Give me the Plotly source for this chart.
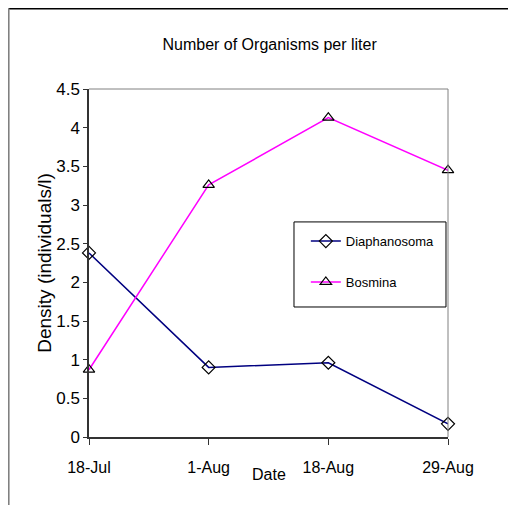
import plotly.graph_objects as go

dates = ["18-Jul", "1-Aug", "18-Aug", "29-Aug"]
diaphanosoma = [2.38, 0.90, 0.96, 0.17]
bosmina = [0.87, 3.26, 4.13, 3.45]
y_ticks = [0, 0.5, 1, 1.5, 2, 2.5, 3, 3.5, 4, 4.5]

font = "Liberation Sans, Arial, sans-serif"
xpos = list(range(len(dates)))

fig = go.Figure()
fig.add_trace(go.Scatter(
    x=xpos, y=diaphanosoma, name="Diaphanosoma", mode="lines+markers",
    line=dict(color="#000080", width=1.5),
    marker=dict(symbol="diamond-open", size=10, color="black", line=dict(width=1.2)),
    legendgroup="a", cliponaxis=False))
fig.add_trace(go.Scatter(
    x=xpos, y=bosmina, name="Bosmina", mode="lines+markers",
    line=dict(color="#FF00FF", width=1.5),
    marker=dict(symbol="triangle-up-open", size=10, color="black", line=dict(width=1.2)),
    legendgroup="b", cliponaxis=False))

# page body has an 8px margin: figure origin sits at (8, 8) in the window
fig.update_layout(
    width=508, height=497,
    margin=dict(l=81, r=68, t=81, b=68),
    paper_bgcolor="white", plot_bgcolor="white",
    font=dict(family=font, color="black"),
    title=dict(text="Number of Organisms per liter", x=0.515, xanchor="center",
               y=0.926, yanchor="middle", font=dict(size=16, family=font)),
    showlegend=True,
    legend=dict(x=0.604, y=0.606, xanchor="left", yanchor="top",
                borderwidth=0, bgcolor="rgba(0,0,0,0)",
                font=dict(size=13, family=font), traceorder="grouped",
                tracegroupgap=21),
    xaxis=dict(
        range=[0, 3], tickmode="array", tickvals=xpos, ticktext=dates,
        showgrid=False, zeroline=False, showline=True, linecolor="#333333",
        linewidth=2, ticks="outside", ticklen=6, tickcolor="#333333",
        tickfont=dict(size=16, family=font), ticklabelstandoff=9,
        mirror=False),
    yaxis=dict(
        range=[0, 4.5], tickmode="array", tickvals=y_ticks,
        ticktext=[str(v) for v in y_ticks],
        showgrid=False, zeroline=False, showline=True, linecolor="#333333",
        linewidth=1.5, ticks="outside", ticklen=4, tickcolor="#333333",
        tickfont=dict(size=17, family=font),
        title=dict(text="Density (individuals/l)", font=dict(size=19, family=font), standoff=0)),
)

# x axis title
fig.add_annotation(text="Date", xref="x domain", yref="y domain", x=0.5, y=-0.108,
                   xanchor="center", yanchor="middle", showarrow=False,
                   font=dict(size=16, family=font))
# legend box
fig.add_shape(type="rect", xref="x domain", yref="y domain", x0=0.571, x1=0.9944,
              y0=0.3736, y1=0.618, line=dict(color="black", width=1), layer="below")
# top and right plot frame (gray)
fig.add_shape(type="line", xref="x domain", yref="y domain", x0=0, x1=1, y0=1, y1=1,
              line=dict(color="#808080", width=1))
fig.add_shape(type="line", xref="x domain", yref="y domain", x0=1, x1=1, y0=0, y1=1,
              line=dict(color="#808080", width=1))
# outer chart border (top and left edges)
fig.add_shape(type="line", xref="paper", yref="paper", x0=-0.224, x1=1.2, y0=1.231, y1=1.231,
              line=dict(color="black", width=2))
fig.add_shape(type="line", xref="paper", yref="paper", x0=-0.224, x1=-0.224, y0=-0.2, y1=1.231,
              line=dict(color="#808080", width=2))

fig.write_html("out.html")
